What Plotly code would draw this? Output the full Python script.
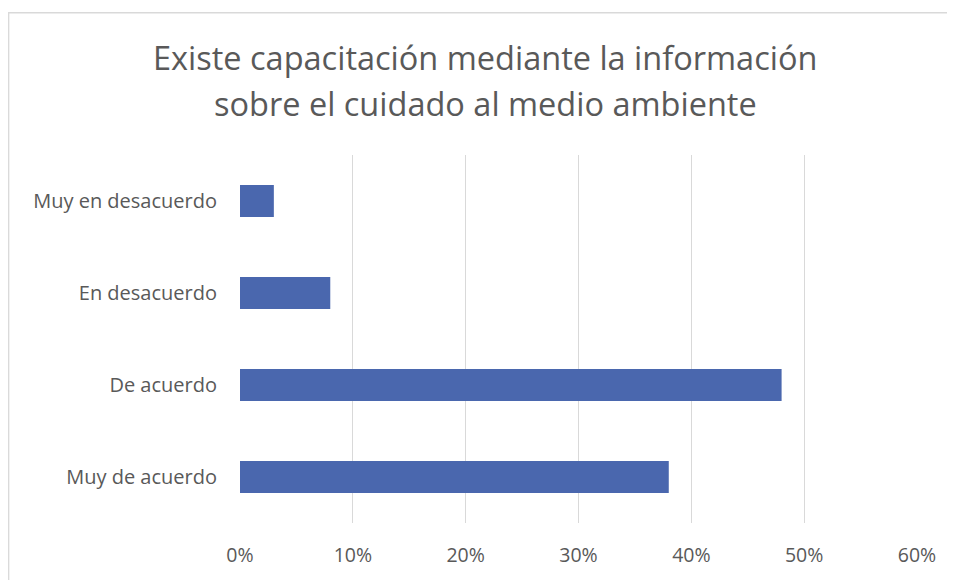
import plotly.graph_objects as go

categories = ["Muy de acuerdo", "De acuerdo", "En desacuerdo", "Muy en desacuerdo"]
values = [0.38, 0.48, 0.08, 0.03]
tick_vals = [0, 0.1, 0.2, 0.3, 0.4, 0.5, 0.6]
tick_text = ["0%", "10%", "20%", "30%", "40%", "50%", "60%"]
title_lines = ["Existe capacitación mediante la información",
               "sobre el cuidado al medio ambiente"]

# page body has an 8px margin, so the figure is shifted by 8px
W, H = 947, 572
L, R, T, B = 232, 38, 147, 55
pw, ph = W - L - R, H - T - B

fig = go.Figure(go.Bar(
    y=categories, x=values, orientation="h",
    marker=dict(color="#4a67ae", line=dict(width=0)),
    width=0.35,
))

fnt = "'Open Sans', sans-serif"
fig.update_layout(
    width=W, height=H,
    margin=dict(l=L, r=R, t=T, b=B),
    paper_bgcolor="white", plot_bgcolor="white",
    showlegend=False,
    xaxis=dict(range=[0, 0.6], tickvals=tick_vals, ticktext=tick_text,
               showgrid=True, gridcolor="#d9d9d9", gridwidth=1.3,
               zeroline=False, showline=False, ticks="",
               tickfont=dict(family=fnt, size=19.5, color="#595959"), ticklabelstandoff=18),
    yaxis=dict(showgrid=False, zeroline=False, showline=False, ticks="",
               tickfont=dict(family=fnt, size=20, color="#595959"), ticklabelstandoff=22),
    bargap=0.65,
)

for line, yc in zip(title_lines, [49, 95]):
    fig.add_annotation(text=line, xref="paper", yref="paper",
                       x=(477 - L) / pw, y=(H - B - yc) / ph,
                       xanchor="center", yanchor="middle", showarrow=False,
                       font=dict(family=fnt, size=32.5, color="#595959"))

fig.add_shape(type="rect", xref="paper", yref="paper",
              x0=(0.7 - L) / pw, x1=(970 - L) / pw,
              y0=(H - B - 600) / ph, y1=(H - B - 4) / ph,
              line=dict(color="#d9d9d9", width=1.3), fillcolor="rgba(0,0,0,0)", layer="below")

fig.write_html("out.html")
